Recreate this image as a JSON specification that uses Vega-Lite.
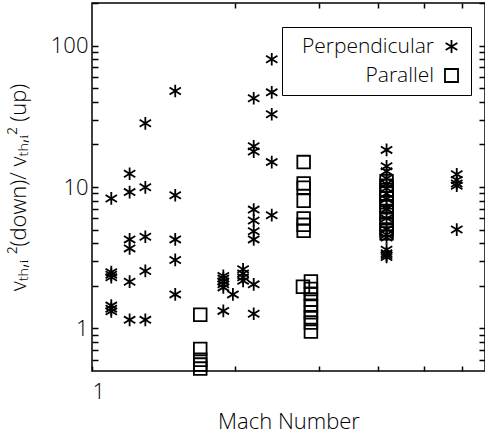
{
  "$schema": "https://vega.github.io/schema/vega-lite/v6.json",
  "width": 393,
  "height": 368,
  "autosize": {"type": "none"},
  "padding": {"left": 92, "top": 3, "right": 0, "bottom": 68},
  "background": "white",
  "config": {
    "view": {"stroke": "black", "strokeWidth": 1.5},
    "font": "Open Sans",
    "axis": {
      "domain": false,
      "grid": false,
      "tickColor": "black",
      "tickWidth": 1.5,
      "labelColor": "black",
      "labelFont": "Open Sans",
      "labelFontWeight": 300,
      "labelFontSize": 22,
      "titleColor": "black",
      "titleFont": "Open Sans",
      "titleFontWeight": 300,
      "titleFontSize": 22
    }
  },
  "data": {
    "values": [
      {"mach": 1.098, "ratio": 8.3, "type": "Perpendicular"},
      {"mach": 1.098, "ratio": 2.5, "type": "Perpendicular"},
      {"mach": 1.098, "ratio": 2.4, "type": "Perpendicular"},
      {"mach": 1.098, "ratio": 2.3, "type": "Perpendicular"},
      {"mach": 1.098, "ratio": 1.45, "type": "Perpendicular"},
      {"mach": 1.098, "ratio": 1.38, "type": "Perpendicular"},
      {"mach": 1.098, "ratio": 1.32, "type": "Perpendicular"},
      {"mach": 1.2, "ratio": 12.4, "type": "Perpendicular"},
      {"mach": 1.2, "ratio": 9.2, "type": "Perpendicular"},
      {"mach": 1.2, "ratio": 4.26, "type": "Perpendicular"},
      {"mach": 1.2, "ratio": 3.68, "type": "Perpendicular"},
      {"mach": 1.2, "ratio": 2.14, "type": "Perpendicular"},
      {"mach": 1.2, "ratio": 1.15, "type": "Perpendicular"},
      {"mach": 1.295, "ratio": 28.2, "type": "Perpendicular"},
      {"mach": 1.295, "ratio": 9.95, "type": "Perpendicular"},
      {"mach": 1.295, "ratio": 4.45, "type": "Perpendicular"},
      {"mach": 1.295, "ratio": 2.55, "type": "Perpendicular"},
      {"mach": 1.295, "ratio": 1.15, "type": "Perpendicular"},
      {"mach": 1.497, "ratio": 47.7, "type": "Perpendicular"},
      {"mach": 1.497, "ratio": 8.74, "type": "Perpendicular"},
      {"mach": 1.497, "ratio": 4.26, "type": "Perpendicular"},
      {"mach": 1.497, "ratio": 3.05, "type": "Perpendicular"},
      {"mach": 1.497, "ratio": 1.74, "type": "Perpendicular"},
      {"mach": 1.89, "ratio": 2.35, "type": "Perpendicular"},
      {"mach": 1.89, "ratio": 2.25, "type": "Perpendicular"},
      {"mach": 1.89, "ratio": 2.15, "type": "Perpendicular"},
      {"mach": 1.89, "ratio": 2.05, "type": "Perpendicular"},
      {"mach": 1.89, "ratio": 1.95, "type": "Perpendicular"},
      {"mach": 1.89, "ratio": 1.33, "type": "Perpendicular"},
      {"mach": 1.98, "ratio": 1.74, "type": "Perpendicular"},
      {"mach": 2.08, "ratio": 2.62, "type": "Perpendicular"},
      {"mach": 2.08, "ratio": 2.45, "type": "Perpendicular"},
      {"mach": 2.08, "ratio": 2.3, "type": "Perpendicular"},
      {"mach": 2.08, "ratio": 2.17, "type": "Perpendicular"},
      {"mach": 2.19, "ratio": 42.4, "type": "Perpendicular"},
      {"mach": 2.19, "ratio": 19.4, "type": "Perpendicular"},
      {"mach": 2.19, "ratio": 17.8, "type": "Perpendicular"},
      {"mach": 2.19, "ratio": 6.92, "type": "Perpendicular"},
      {"mach": 2.19, "ratio": 5.8, "type": "Perpendicular"},
      {"mach": 2.19, "ratio": 4.87, "type": "Perpendicular"},
      {"mach": 2.19, "ratio": 4.26, "type": "Perpendicular"},
      {"mach": 2.19, "ratio": 2.05, "type": "Perpendicular"},
      {"mach": 2.19, "ratio": 1.27, "type": "Perpendicular"},
      {"mach": 2.39, "ratio": 80.1, "type": "Perpendicular"},
      {"mach": 2.39, "ratio": 46.7, "type": "Perpendicular"},
      {"mach": 2.39, "ratio": 32.7, "type": "Perpendicular"},
      {"mach": 2.39, "ratio": 15.0, "type": "Perpendicular"},
      {"mach": 2.39, "ratio": 6.32, "type": "Perpendicular"},
      {"mach": 4.17, "ratio": 18.3, "type": "Perpendicular"},
      {"mach": 4.17, "ratio": 14.0, "type": "Perpendicular"},
      {"mach": 4.17, "ratio": 12.9, "type": "Perpendicular"},
      {"mach": 4.17, "ratio": 11.5, "type": "Perpendicular"},
      {"mach": 4.17, "ratio": 10.5, "type": "Perpendicular"},
      {"mach": 4.17, "ratio": 9.8, "type": "Perpendicular"},
      {"mach": 4.17, "ratio": 9.0, "type": "Perpendicular"},
      {"mach": 4.17, "ratio": 8.2, "type": "Perpendicular"},
      {"mach": 4.17, "ratio": 7.0, "type": "Perpendicular"},
      {"mach": 4.17, "ratio": 6.0, "type": "Perpendicular"},
      {"mach": 4.17, "ratio": 5.0, "type": "Perpendicular"},
      {"mach": 4.17, "ratio": 4.6, "type": "Perpendicular"},
      {"mach": 4.17, "ratio": 4.4, "type": "Perpendicular"},
      {"mach": 4.17, "ratio": 3.6, "type": "Perpendicular"},
      {"mach": 4.17, "ratio": 3.4, "type": "Perpendicular"},
      {"mach": 4.17, "ratio": 3.3, "type": "Perpendicular"},
      {"mach": 4.17, "ratio": 3.2, "type": "Perpendicular"},
      {"mach": 5.86, "ratio": 12.3, "type": "Perpendicular"},
      {"mach": 5.86, "ratio": 11.2, "type": "Perpendicular"},
      {"mach": 5.86, "ratio": 10.6, "type": "Perpendicular"},
      {"mach": 5.86, "ratio": 10.2, "type": "Perpendicular"},
      {"mach": 5.86, "ratio": 5.0, "type": "Perpendicular"},
      {"mach": 1.69, "ratio": 1.25, "type": "Parallel"},
      {"mach": 1.69, "ratio": 0.715, "type": "Parallel"},
      {"mach": 1.69, "ratio": 0.6, "type": "Parallel"},
      {"mach": 1.69, "ratio": 0.555, "type": "Parallel"},
      {"mach": 1.69, "ratio": 0.52, "type": "Parallel"},
      {"mach": 2.79, "ratio": 15.0, "type": "Parallel"},
      {"mach": 2.79, "ratio": 10.6, "type": "Parallel"},
      {"mach": 2.79, "ratio": 9.9, "type": "Parallel"},
      {"mach": 2.79, "ratio": 8.0, "type": "Parallel"},
      {"mach": 2.79, "ratio": 6.0, "type": "Parallel"},
      {"mach": 2.79, "ratio": 5.4, "type": "Parallel"},
      {"mach": 2.79, "ratio": 4.9, "type": "Parallel"},
      {"mach": 2.78, "ratio": 1.97, "type": "Parallel"},
      {"mach": 2.89, "ratio": 2.15, "type": "Parallel"},
      {"mach": 2.89, "ratio": 1.9, "type": "Parallel"},
      {"mach": 2.89, "ratio": 1.75, "type": "Parallel"},
      {"mach": 2.89, "ratio": 1.6, "type": "Parallel"},
      {"mach": 2.89, "ratio": 1.45, "type": "Parallel"},
      {"mach": 2.89, "ratio": 1.3, "type": "Parallel"},
      {"mach": 2.89, "ratio": 1.2, "type": "Parallel"},
      {"mach": 2.89, "ratio": 1.1, "type": "Parallel"},
      {"mach": 2.89, "ratio": 0.95, "type": "Parallel"},
      {"mach": 4.17, "ratio": 11.0, "type": "Parallel"},
      {"mach": 4.17, "ratio": 10.2, "type": "Parallel"},
      {"mach": 4.17, "ratio": 9.5, "type": "Parallel"},
      {"mach": 4.17, "ratio": 9.0, "type": "Parallel"},
      {"mach": 4.17, "ratio": 8.3, "type": "Parallel"},
      {"mach": 4.17, "ratio": 7.8, "type": "Parallel"},
      {"mach": 4.17, "ratio": 7.2, "type": "Parallel"},
      {"mach": 4.17, "ratio": 6.6, "type": "Parallel"},
      {"mach": 4.17, "ratio": 6.0, "type": "Parallel"},
      {"mach": 4.17, "ratio": 5.5, "type": "Parallel"},
      {"mach": 4.17, "ratio": 5.0, "type": "Parallel"},
      {"mach": 4.17, "ratio": 4.7, "type": "Parallel"}
    ]
  },
  "resolve": {"axis": {"x": "independent", "y": "independent"}},
  "layer": [
    {
      "mark": {"type": "point", "filled": false, "stroke": "black", "strokeWidth": 1.8, "opacity": 1, "size": 160},
      "encoding": {
        "x": {
          "field": "mach", "type": "quantitative",
          "scale": {"type": "log", "domain": [1, 6.72], "nice": false},
          "axis": {
            "orient": "bottom",
            "title": "Mach Number",
            "values": [1, 2, 3, 4, 5, 6],
            "labelExpr": "datum.value == 1 ? '1' : ''",
            "tickSize": -5,
            "labelPadding": 15,
            "titlePadding": 9
          }
        },
        "y": {
          "field": "ratio", "type": "quantitative",
          "scale": {"type": "log", "domain": [0.5, 200], "nice": false},
          "axis": {
            "orient": "left",
            "title": "vₜₕ,ᵢ ²(down)/ vₜₕ,ᵢ² (up)",
            "values": [0.6, 0.7, 0.8, 0.9, 1, 2, 3, 4, 5, 6, 7, 8, 9, 10, 20, 30, 40, 50, 60, 70, 80, 90, 100, 200],
            "labelExpr": "datum.value == 1 || datum.value == 10 || datum.value == 100 ? datum.label : ''",
            "tickSize": -6,
            "labelPadding": 10,
            "titlePadding": 20
          }
        },
        "shape": {
          "field": "type", "type": "nominal",
          "scale": {"domain": ["Perpendicular", "Parallel"], "range": ["M0,-1L0,1M-0.9,-0.55L0.9,0.55M-0.9,0.55L0.9,-0.55", "square"]},
          "legend": {
            "title": null,
            "orient": "none",
            "legendX": 190,
            "legendY": 24,
            "direction": "vertical",
            "strokeColor": "black",
            "padding": 9,
            "labelFont": "Open Sans",
            "labelFontWeight": 300,
            "labelFontSize": 21,
            "labelColor": "black",
            "labelAlign": "right",
            "labelOffset": -28,
            "symbolOffset": 150,
            "symbolSize": 170,
            "symbolStrokeColor": "black",
            "symbolStrokeWidth": 1.8,
            "symbolFillColor": "transparent",
            "rowPadding": 7
          }
        }
      }
    },
    {
      "mark": {"type": "point", "opacity": 0},
      "encoding": {
        "x": {
          "field": "mach", "type": "quantitative",
          "scale": {"type": "log", "domain": [1, 6.72], "nice": false},
          "axis": {
            "orient": "top", "title": null, "labels": false,
            "values": [2, 3, 4, 5, 6], "tickSize": -5
          }
        },
        "y": {
          "field": "ratio", "type": "quantitative",
          "scale": {"type": "log", "domain": [0.5, 200], "nice": false},
          "axis": {
            "orient": "right", "title": null, "labels": false,
            "values": [0.6, 0.7, 0.8, 0.9, 1, 2, 3, 4, 5, 6, 7, 8, 9, 10, 20, 30, 40, 50, 60, 70, 80, 90, 100, 200],
            "tickSize": -6
          }
        }
      }
    }
  ]
}
